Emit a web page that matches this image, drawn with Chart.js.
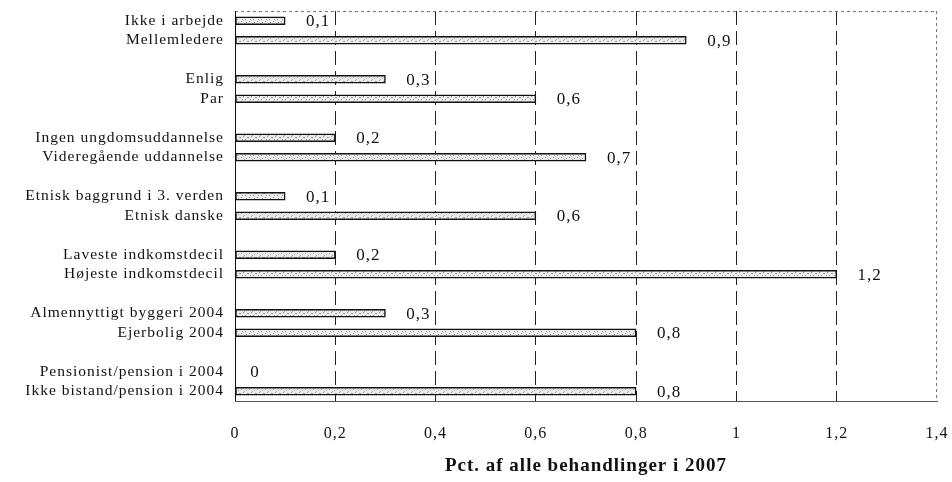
<!DOCTYPE html>
<html lang="da">
<head>
<meta charset="UTF-8">
<title>Behandlinger 2007</title>
<script src="https://cdn.jsdelivr.net/npm/chart.js"></script>
<style>
  html, body { margin: 0; padding: 0; background: #fff; }
  #wrap { width: 952px; height: 482px; }
</style>
</head>
<body>
<div id="wrap"><canvas id="chart" width="952" height="482"></canvas></div>
<script>
// categories, in pairs (top to bottom)
var categories = [
  'Ikke i arbejde', 'Mellemledere',
  'Enlig', 'Par',
  'Ingen ungdomsuddannelse', 'Videregående uddannelse',
  'Etnisk baggrund i 3. verden', 'Etnisk danske',
  'Laveste indkomstdecil', 'Højeste indkomstdecil',
  'Almennyttigt byggeri 2004', 'Ejerbolig 2004',
  'Pensionist/pension i 2004', 'Ikke bistand/pension i 2004'
];
var values = [0.1, 0.9, 0.3, 0.6, 0.2, 0.7, 0.1, 0.6, 0.2, 1.2, 0.3, 0.8, 0, 0.8];
var xTicks = [0, 0.2, 0.4, 0.6, 0.8, 1, 1.2, 1.4];
var axisTitle = 'Pct. af alle behandlinger i 2007';

// put an empty slot between each pair
var labels = [], data = [];
for (var i = 0; i < categories.length; i++) {
  if (i > 0 && i % 2 === 0) { labels.push(''); data.push(null); }
  labels.push(categories[i]);
  data.push(values[i]);
}

function fmt(v) { return String(Math.round(v * 10) / 10).replace('.', ','); }

var serif = '"Liberation Serif", "Times New Roman", serif';

// speckled light grey fill like the printed hatch
var pc = document.createElement('canvas');
pc.width = 8; pc.height = 8;
var pctx = pc.getContext('2d');
pctx.fillStyle = '#ececec';
pctx.fillRect(0, 0, 8, 8);
pctx.fillStyle = '#9a9a9a';
[[0,1],[3,0],[5,3],[1,5],[6,6],[2,3],[7,1],[4,7]].forEach(function(p) { pctx.fillRect(p[0], p[1], 1, 1); });
var hatch = pctx.createPattern(pc, 'repeat');

// the scanned original has wide-set type
var spacing = {
  id: 'spacing',
  beforeInit: function(chart) { chart.ctx.letterSpacing = '1px'; },
  beforeDraw: function(chart) { chart.ctx.letterSpacing = '1px'; }
};

var valueLabels = {
  id: 'valueLabels',
  afterDatasetsDraw: function(chart) {
    var ctx = chart.ctx, xs = chart.scales.x;
    var meta = chart.getDatasetMeta(0);
    ctx.save();
    ctx.font = '17px ' + serif;
    ctx.fillStyle = '#111';
    ctx.textAlign = 'center';
    ctx.textBaseline = 'middle';
    meta.data.forEach(function(bar, idx) {
      var v = data[idx];
      if (v === null) return;
      var off = v === 0 ? 20 : 33;
      ctx.fillText(fmt(v), xs.getPixelForValue(v) + off, bar.y + 1);
    });
    ctx.restore();
  }
};

var frame = {
  id: 'frame',
  beforeDatasetsDraw: function(chart) {
    var a = chart.chartArea, ctx = chart.ctx;
    ctx.save();
    ctx.strokeStyle = '#777';
    ctx.lineWidth = 1;
    ctx.setLineDash([3, 3]);
    ctx.beginPath();
    ctx.moveTo(a.left, a.top + 0.5); ctx.lineTo(a.right, a.top + 0.5);
    ctx.moveTo(a.right - 0.5, a.top); ctx.lineTo(a.right - 0.5, a.bottom);
    ctx.stroke();
    ctx.setLineDash([]);
    ctx.strokeStyle = '#111';
    ctx.beginPath();
    ctx.moveTo(a.left + 0.5, a.top); ctx.lineTo(a.left + 0.5, a.bottom);
    ctx.stroke();
    ctx.restore();
  }
};

new Chart(document.getElementById('chart').getContext('2d'), {
  type: 'bar',
  data: {
    labels: labels,
    datasets: [{
      data: data,
      backgroundColor: hatch,
      borderColor: '#111',
      borderWidth: 1.5,
      borderSkipped: false,
      barThickness: 8
    }]
  },
  options: {
    indexAxis: 'y',
    responsive: false,
    animation: false,
    layout: { padding: { top: 11, right: 15, bottom: 5, left: 0 } },
    plugins: { legend: { display: false }, tooltip: { enabled: false } },
    scales: {
      x: {
        min: 0, max: 1.4,
        afterBuildTicks: function(s) { s.ticks = xTicks.map(function(v) { return { value: v }; }); },
        afterFit: function(s) { s.height = 76; s.paddingRight = 0; s.paddingLeft = 0; },
        ticks: {
          padding: 23,
          color: '#111',
          maxRotation: 0,
          font: { family: serif, size: 16 },
          callback: function(v) { return fmt(v); }
        },
        grid: {
          drawTicks: false,
          color: function(c) {
            var v = c.tick ? c.tick.value : 0;
            return (v === 0 || v === 1.4) ? 'transparent' : '#222';
          },
          lineWidth: 1
        },
        border: { display: true, color: '#555', dash: [14, 6] },
        title: {
          display: true,
          text: axisTitle,
          color: '#111',
          font: { family: serif, size: 19, weight: 'bold' },
          padding: { top: 16, bottom: 0 }
        }
      },
      y: {
        afterFit: function(s) { s.width = 235; s.paddingTop = 0; s.paddingBottom = 0; },
        ticks: {
          padding: 3,
          color: '#111',
          autoSkip: false,
          font: { family: serif, size: 15.5 }
        },
        grid: { display: false },
        border: { display: false }
      }
    }
  },
  plugins: [spacing, frame, valueLabels]
});
</script>
</body>
</html>
